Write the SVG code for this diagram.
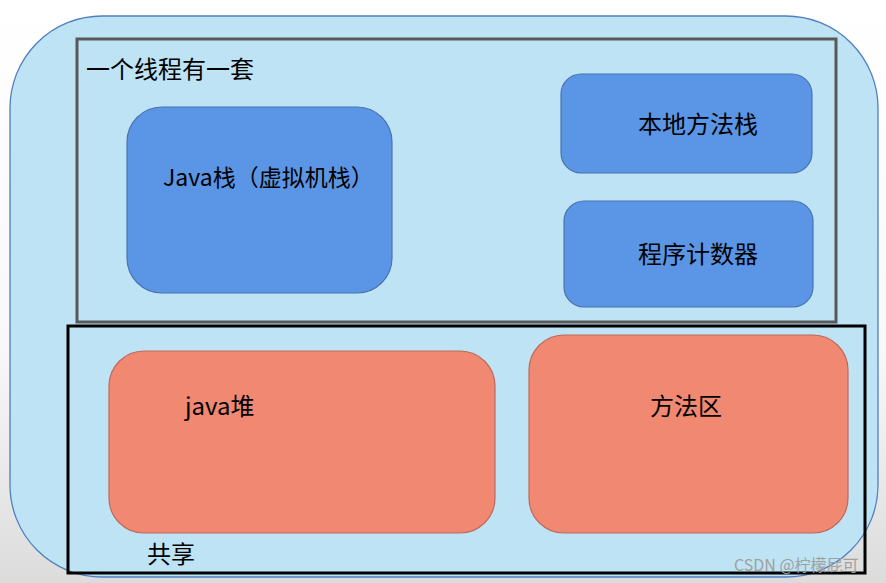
<svg xmlns="http://www.w3.org/2000/svg" width="886" height="583" viewBox="0 0 886 583">
<defs>
<linearGradient id="bg" x1="0" y1="0" x2="0" y2="1">
<stop offset="0" stop-color="#ffffff"/>
<stop offset="0.6" stop-color="#f8f8f8"/>
<stop offset="1" stop-color="#dcdcdc"/>
</linearGradient>
<style>
text{font-family:"Noto Sans CJK SC","Liberation Sans",sans-serif;fill:#000;font-size:24px}
.blue{fill:#5b95e5;stroke:#4a74b0;stroke-width:1.2}
.red{fill:#f08872;stroke:#c0685c;stroke-width:1.2}
</style>
</defs>
<rect x="0" y="0" width="886" height="583" fill="url(#bg)"/>
<g id="outer">
<rect x="10" y="16" width="868" height="561" rx="92" ry="92" fill="#bde3f4" stroke="#4f7fbf" stroke-width="1.3"/>
</g>
<g id="thread">
<rect x="77" y="39" width="759" height="283" fill="none" stroke="#595959" stroke-width="3"/>
<text x="86" y="78">一个线程有一套</text>
</g>
<g id="javastack">
<rect class="blue" x="127" y="107" width="265" height="186" rx="35"/>
<text x="163" y="186" style="font-size:23px">Java栈（虚拟机栈）</text>
</g>
<g id="native">
<rect class="blue" x="561" y="74" width="251" height="99" rx="20"/>
<text x="638" y="133">本地方法栈</text>
</g>
<g id="pc">
<rect class="blue" x="564" y="201" width="249" height="106" rx="20"/>
<text x="638" y="263">程序计数器</text>
</g>
<g id="shared">
<rect x="68" y="326" width="797" height="247" fill="none" stroke="#000" stroke-width="3"/>
<text x="147" y="563">共享</text>
</g>
<g id="heap">
<rect class="red" x="109" y="351" width="386" height="182" rx="35"/>
<text x="185" y="415">java堆</text>
</g>
<g id="method">
<rect class="red" x="529" y="335" width="319" height="198" rx="35"/>
<text x="650" y="415">方法区</text>
</g>
<g id="connectors"></g>
<text x="734" y="571" style="font-size:16px;fill:#a0a0a0">CSDN @柠檬屁可</text>
</svg>
